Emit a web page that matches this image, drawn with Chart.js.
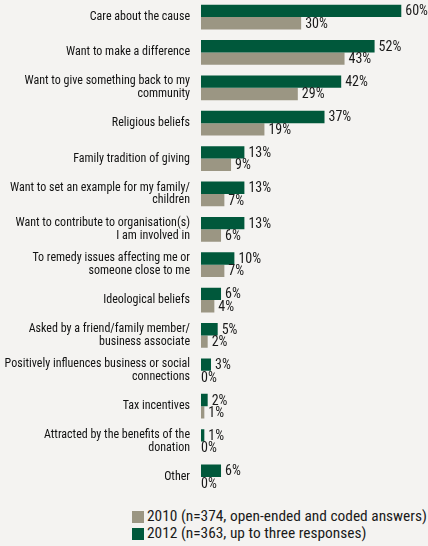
<!DOCTYPE html>
<html>
<head>
<meta charset="utf-8">
<script src="https://cdn.jsdelivr.net/npm/chart.js@4/dist/chart.umd.min.js"></script>
<style>
  body{margin:0;background:#f4f3f1;font-family:"Roboto Condensed",sans-serif;overflow:hidden;}
  #wrap{position:absolute;left:0;top:-7px;width:428px;height:508px;}
  #legend{position:absolute;left:132px;top:508px;font-size:15.4px;color:#1a1a1a;line-height:17px;white-space:nowrap;}
  #legend div{display:flex;align-items:center;}
  #legend span.sw{display:inline-block;width:12px;height:12px;margin-right:3px;}
</style>
</head>
<body>
<div id="wrap"><canvas id="barChart"></canvas></div>
<div id="legend"></div>
<script>
// Datos
const categorias = [
  'Care about the cause',
  'Want to make a difference',
  ['Want to give something back to my','community'],
  'Religious beliefs',
  'Family tradition of giving',
  ['Want to set an example for my family/','children'],
  ['Want to contribute to organisation(s)','I am involved in'],
  ['To remedy issues affecting me or','someone close to me'],
  'Ideological beliefs',
  ['Asked by a friend/family member/','business associate'],
  ['Positively influences business or social','connections'],
  'Tax incentives',
  ['Attracted by the benefits of the','donation'],
  'Other'
];
const valores2012 = [60,52,42,37,13,13,13,10,6,5,3,2,1,6];
const valores2010 = [30,43,29,19,9,7,6,7,4,2,0,1,0,0];
const etiqueta2010 = '2010 (n=374, open-ended and coded answers)';
const etiqueta2012 = '2012 (n=363, up to three responses)';

const verde = '#00583b';
const gris = '#9b9683';
const fuente = '"Roboto Condensed",sans-serif';

// Etiquetas de valor al final de cada barra
const valueLabels = {
  id:'valueLabels',
  afterDatasetsDraw(chart){
    const ctx = chart.ctx;
    ctx.save();
    ctx.font = '14px ' + fuente;
    ctx.fillStyle = '#1a1a1a';
    ctx.textBaseline = 'middle';
    ctx.textAlign = 'left';
    chart.data.datasets.forEach((ds,i)=>{
      chart.getDatasetMeta(i).data.forEach((bar,j)=>{
        const v = ds.data[j];
        ctx.fillText(v+'%', bar.x + (v>0?4:0), bar.y+1);
      });
    });
    ctx.restore();
  }
};

const ctxBar = document.getElementById('barChart').getContext('2d');
const barChart = new Chart(ctxBar, {
  type:'bar',
  data:{
    labels:categorias,
    datasets:[
      {label:etiqueta2012,data:valores2012,backgroundColor:verde},
      {label:etiqueta2010,data:valores2010,backgroundColor:gris}
    ]
  },
  options:{
    indexAxis:'y',
    responsive:true,
    maintainAspectRatio:false,
    animation:false,
    categoryPercentage:0.7,
    barPercentage:1.0,
    layout:{padding:0},
    plugins:{legend:{display:false},tooltip:{enabled:false}},
    scales:{
      x:{display:false,min:0,max:68},
      y:{
        grid:{display:false,drawTicks:true,tickLength:11},
        border:{display:false},
        afterFit(scale){scale.width = 201;},
        ticks:{
          color:'#111',
          padding:0,
          font:{family:fuente,size:12,lineHeight:1.06}
        }
      }
    }
  },
  plugins:[valueLabels]
});

// Leyenda
const legend = document.getElementById('legend');
[[gris,etiqueta2010],[verde,etiqueta2012]].forEach(([c,t])=>{
  const d = document.createElement('div');
  d.innerHTML = '<span class="sw" style="background:'+c+'"></span>'+t;
  legend.appendChild(d);
});
</script>
</body>
</html>
